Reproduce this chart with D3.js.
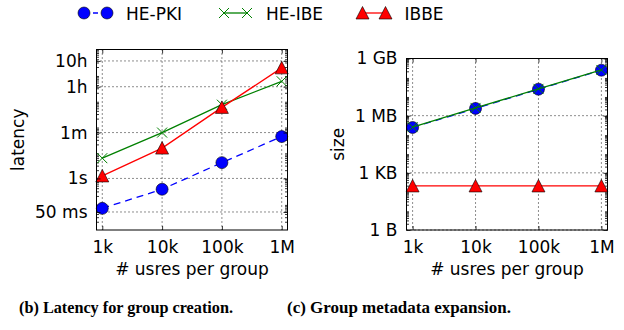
<!DOCTYPE html>
<html>
<head>
<meta charset="utf-8">
<script src="https://cdn.jsdelivr.net/npm/d3@7"></script>
<style>
  body { margin: 0; background: #fff; }
  svg { display: block; font-family: "DejaVu Sans", sans-serif; }
</style>
</head>
<body>
<div id="chart"></div>
<script>
// group sizes (x axis of both panels)
const users = [1e3, 1e4, 1e5, 1e6];
const userLabels = ["1k", "10k", "100k", "1M"];

// (b) latency for group creation, in seconds
const hePkiLatency = [0.069, 0.38, 4.1, 42];
const heIbeLatency = [6.1, 60, 724, 5850];
const ibbeLatency = [1.25, 15, 569, 19400];
const latencyTicks = [0.05, 1, 60, 3600, 36000];
const latencyLabels = ["50 ms", "1s", "1m", "1h", "10h"];

// (c) group metadata size, in bytes
const hePkiSize = [2.4e5, 2.4e6, 2.45e7, 2.43e8];
const heIbeSize = [2.5e5, 2.55e6, 2.55e7, 2.5e8];
const ibbeSize = [205, 205, 205, 205];
const sizeTicks = [1, 1e3, 1e6, 1e9];
const sizeLabels = ["1 B", "1 KB", "1 MB", "1 GB"];

const seriesNames = ["HE-PKI", "HE-IBE", "IBBE"];

const W = 624, H = 330;
const svg = d3.select("#chart").append("svg")
    .attr("width", W)
    .attr("height", H);

const styles = {
    "HE-PKI": { color: "#0000ff", dash: "7,5", marker: "circle" },
    "HE-IBE": { color: "#008000", dash: null, marker: "x" },
    "IBBE": { color: "#ff0000", dash: null, marker: "triangle" }
};

function drawMarker(g, kind, x, y, color) {
    if (kind === "circle") {
        g.append("circle").attr("cx", x).attr("cy", y).attr("r", 6)
            .attr("fill", color).attr("stroke", "#000").attr("stroke-width", 0.6);
    } else if (kind === "triangle") {
        g.append("path")
            .attr("d", `M${x},${y - 6.5} L${x + 6.5},${y + 6} L${x - 6.5},${y + 6} Z`)
            .attr("fill", color).attr("stroke", "#000").attr("stroke-width", 0.6);
    } else {
        const s = 5;
        g.append("path")
            .attr("d", `M${x - s},${y - s} L${x + s},${y + s} M${x - s},${y + s} L${x + s},${y - s}`)
            .attr("stroke", color).attr("stroke-width", 1).attr("fill", "none");
    }
}

function panel(opts) {
    const { left, right, top, bottom, yDomain, yTicks, yLabels, series, yTitle, titleX, minorFrom, minorTo } = opts;
    const x = d3.scaleLog().domain([800, 1.25e6]).range([left, right]);
    const y = d3.scaleLog().domain(yDomain).range([bottom, top]);
    const g = svg.append("g");

    // grid
    const grid = g.append("g").attr("stroke", "#000").attr("stroke-width", 0.9)
        .attr("stroke-dasharray", "1,3");
    users.forEach(u => grid.append("line")
        .attr("x1", x(u)).attr("x2", x(u)).attr("y1", top).attr("y2", bottom));
    yTicks.forEach(t => grid.append("line")
        .attr("x1", left).attr("x2", right).attr("y1", y(t)).attr("y2", y(t)));

    // minor ticks on y (both sides)
    const minor = [];
    for (let k = minorFrom; k <= minorTo; k++) {
        for (let m = 2; m <= 9; m++) {
            const v = m * Math.pow(10, k);
            if (v > yDomain[0] && v < yDomain[1]) minor.push(v);
        }
    }
    const mt = g.append("g").attr("stroke", "#000").attr("stroke-width", 0.8);
    minor.forEach(v => {
        mt.append("line").attr("x1", left).attr("x2", left + 2.5).attr("y1", y(v)).attr("y2", y(v));
        mt.append("line").attr("x1", right).attr("x2", right - 2.5).attr("y1", y(v)).attr("y2", y(v));
    });

    // lines and markers
    series.forEach(s => {
        const st = styles[s.name];
        const pts = users.map((u, i) => [x(u), y(s.values[i])]);
        g.append("path")
            .attr("d", d3.line()(pts))
            .attr("fill", "none")
            .attr("stroke", st.color)
            .attr("stroke-width", 1.3)
            .attr("stroke-dasharray", st.dash);
        const mg = g.append("g");
        pts.forEach(p => drawMarker(mg, st.marker, p[0], p[1], st.color));
    });

    // axes with inward ticks
    const xAxis = d3.axisBottom(x).tickValues(users)
        .tickFormat((d, i) => userLabels[i]).tickSizeInner(-4).tickSizeOuter(0).tickPadding(11);
    const xTop = d3.axisTop(x).tickValues(users).tickFormat("").tickSizeInner(-4).tickSizeOuter(0);
    const yAxis = d3.axisLeft(y).tickValues(yTicks)
        .tickFormat((d, i) => yLabels[i]).tickSizeInner(-4).tickSizeOuter(0).tickPadding(9);
    const yRight = d3.axisRight(y).tickValues(yTicks).tickFormat("").tickSizeInner(-4).tickSizeOuter(0);

    [[xAxis, `translate(0,${bottom})`], [xTop, `translate(0,${top})`],
     [yAxis, `translate(${left},0)`], [yRight, `translate(${right},0)`]].forEach(([ax, tr]) => {
        const a = g.append("g").attr("transform", tr).call(ax);
        a.select(".domain").remove();
        a.selectAll("line").attr("stroke", "#000").attr("stroke-width", 0.8);
        a.selectAll("text").attr("font-size", 17).attr("fill", "#000")
            .attr("font-family", "DejaVu Sans, sans-serif");
    });

    g.append("rect").attr("x", left).attr("y", top)
        .attr("width", right - left).attr("height", bottom - top)
        .attr("fill", "none").attr("stroke", "#000").attr("stroke-width", 1);

    g.append("text")
        .attr("x", (left + right) / 2).attr("y", 275)
        .attr("text-anchor", "middle").attr("font-size", 17)
        .text("# usres per group");

    g.append("text")
        .attr("transform", `translate(${titleX},${(top + bottom) / 2}) rotate(-90)`)
        .attr("text-anchor", "middle").attr("font-size", 17)
        .text(yTitle);
}

panel({
    left: 96.5, right: 287.5, top: 49.5, bottom: 230,
    yDomain: [0.01, 1e5], yTicks: latencyTicks, yLabels: latencyLabels,
    minorFrom: -2, minorTo: 4, yTitle: "latency", titleX: 24,
    series: [
        { name: "HE-PKI", values: hePkiLatency },
        { name: "HE-IBE", values: heIbeLatency },
        { name: "IBBE", values: ibbeLatency }
    ]
});

panel({
    left: 406.5, right: 607.5, top: 58.5, bottom: 230,
    yDomain: [1, 1e9], yTicks: sizeTicks, yLabels: sizeLabels,
    minorFrom: 0, minorTo: 8, yTitle: "size", titleX: 344,
    series: [
        { name: "HE-PKI", values: hePkiSize },
        { name: "HE-IBE", values: heIbeSize },
        { name: "IBBE", values: ibbeSize }
    ]
});

// legend
const legendX = [84, 224, 362.5];
const legend = svg.append("g");
seriesNames.forEach((name, i) => {
    const st = styles[name];
    const x0 = legendX[i], x1 = x0 + 23, ly = 13;
    legend.append("line").attr("x1", x0).attr("x2", x1).attr("y1", ly).attr("y2", ly)
        .attr("stroke", st.color).attr("stroke-width", 1.3)
        .attr("stroke-dasharray", st.dash ? "5,4" : null);
    drawMarker(legend, st.marker, x0, ly, st.color);
    drawMarker(legend, st.marker, x1, ly, st.color);
    legend.append("text").attr("x", x1 + 19).attr("y", ly + 6.5)
        .attr("font-size", 17).text(name);
});

// captions
svg.append("text").attr("x", 19).attr("y", 313)
    .attr("font-family", "Liberation Serif, serif").attr("font-weight", "bold")
    .attr("font-size", 16.5).attr("textLength", 214).attr("lengthAdjust", "spacingAndGlyphs")
    .text("(b) Latency for group creation.");
svg.append("text").attr("x", 287).attr("y", 313)
    .attr("font-family", "Liberation Serif, serif").attr("font-weight", "bold")
    .attr("font-size", 16.5).attr("textLength", 224).attr("lengthAdjust", "spacingAndGlyphs")
    .text("(c) Group metadata expansion.");
</script>
</body>
</html>
